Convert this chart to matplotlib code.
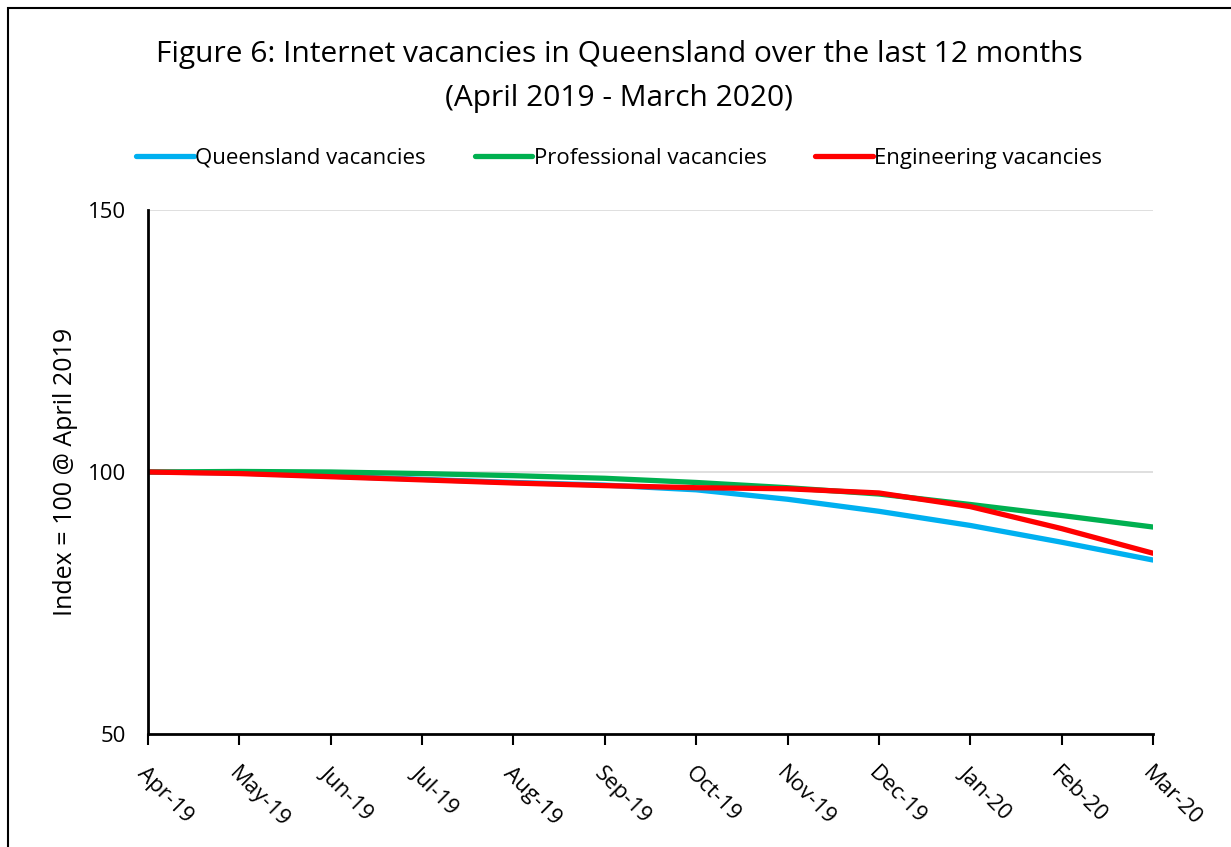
import numpy as np
import matplotlib.pyplot as plt
from matplotlib.patches import Rectangle

plt.rcParams['font.family'] = ['Open Sans', 'DejaVu Sans']

months = ['Apr-19', 'May-19', 'Jun-19', 'Jul-19', 'Aug-19', 'Sep-19',
          'Oct-19', 'Nov-19', 'Dec-19', 'Jan-20', 'Feb-20', 'Mar-20']

# index = 100 @ April 2019
queensland = [100.0, 99.8, 99.2, 98.6, 98.0, 97.5, 96.6, 94.8, 92.5, 89.8, 86.6, 83.2]
professional = [100.0, 100.1, 100.0, 99.7, 99.3, 98.8, 98.0, 97.0, 95.8, 93.8, 91.7, 89.5]
engineering = [100.0, 99.7, 99.1, 98.5, 97.9, 97.4, 97.0, 96.8, 96.0, 93.4, 89.2, 84.5]

fig = plt.figure(figsize=(12.31, 8.47), dpi=100)
ax = fig.add_axes([0.1202, 0.1334, 0.8164, 0.6187])

# chart border (Excel chart area)
fig.patches.append(Rectangle((8 / 1231, -0.1), 1.2, 1 - 8 / 847 + 0.1,
                             transform=fig.transFigure, fill=False,
                             edgecolor='black', linewidth=1.5))

x = np.arange(len(months))
ax.plot(x, queensland, color='#00B0F0', lw=3.8, solid_capstyle='round', label='Queensland vacancies')
ax.plot(x, professional, color='#00B050', lw=3.8, solid_capstyle='round', label='Professional vacancies')
ax.plot(x, engineering, color='#FF0000', lw=3.8, solid_capstyle='round', label='Engineering vacancies')

ax.set_xlim(0, len(months) - 1)
ax.set_ylim(50, 150)
ax.set_yticks([50, 100, 150])
ax.set_xticks(x)
ax.set_xticklabels(months, rotation=-45, ha='left', va='top', rotation_mode='anchor')
ax.tick_params(axis='x', length=8, width=1.5, labelsize=16, pad=13)
ax.tick_params(axis='y', length=0, labelsize=16, pad=16)

for yv in [100, 150]:
    ax.axhline(yv, color='#D9D9D9', lw=1.2, zorder=0)

for s in ['top', 'right']:
    ax.spines[s].set_visible(False)
ax.spines['left'].set_linewidth(2)
ax.spines['bottom'].set_linewidth(2)

ax.set_ylabel('Index = 100 @ April 2019', fontsize=18, labelpad=7)

fig.text(0.503, 0.936, 'Figure 6: Internet vacancies in Queensland over the last 12 months',
         ha='center', va='center', fontsize=21.5)
fig.text(0.503, 0.884, '(April 2019 - March 2020)', ha='center', va='center', fontsize=21.5)

fig.legend(loc='center', bbox_to_anchor=(0.503, 0.813), ncol=3, frameon=False,
           fontsize=16, handlelength=2.6, handletextpad=0.05, columnspacing=2.2)

fig.savefig('out.png', dpi=100)
